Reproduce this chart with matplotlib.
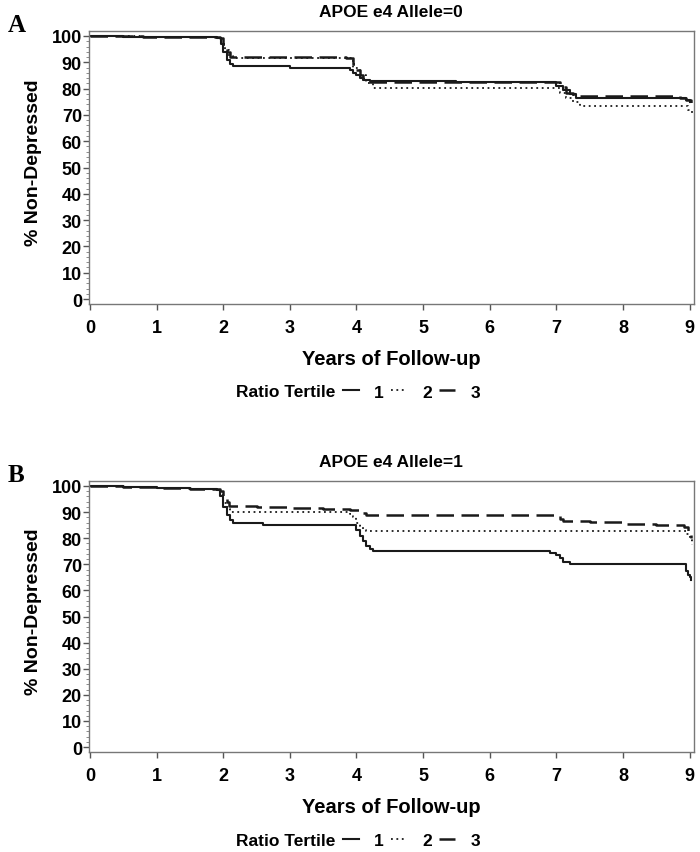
import numpy as np
import matplotlib.pyplot as plt
from matplotlib.ticker import MultipleLocator

plt.rcParams['font.family'] = ['Liberation Sans Narrow', 'Liberation Sans', 'DejaVu Sans']
plt.rcParams['font.weight'] = 'bold'

# panel A: APOE e4 Allele=0  (KM step curves, % non-depressed)
a_t1 = [0, 0.5, 1.2, 1.9, 1.96, 2.0, 2.05, 2.1, 2.15, 3.0, 3.9, 3.95, 4.0, 4.05, 4.1, 4.2, 5.5, 6.9, 7.0, 7.1, 7.2, 7.3, 8.9, 8.95, 9.0]
a_s1 = [100, 99.8, 99.6, 99.4, 97, 94, 91, 89.5, 88.5, 88.0, 87.2, 86, 85, 84, 83.3, 82.8, 82.6, 82.4, 81, 79.5, 78, 76.6, 76.4, 75.5, 74.9]
a_t2 = [0, 0.8, 1.6, 1.9, 1.97, 2.03, 2.08, 2.15, 3.85, 3.95, 4.05, 4.15, 4.25, 6.95, 7.05, 7.15, 7.25, 7.35, 8.9, 8.97, 9.03]
a_s2 = [100, 99.7, 99.5, 99.3, 97, 94.5, 92.5, 91.8, 91.5, 88, 85, 82, 80.3, 80.3, 78.5, 76.5, 75, 73.5, 73.5, 72, 70.3]
a_t3 = [0, 0.8, 1.6, 1.95, 2.0, 2.05, 2.1, 3.85, 3.95, 4.0, 4.05, 4.1, 4.2, 6.95, 7.05, 7.15, 7.25, 8.85, 8.95, 9.02]
a_s3 = [100, 99.8, 99.6, 99.4, 97, 94, 92, 91.8, 89.5, 87, 85, 83.5, 82.6, 82.4, 80.5, 78.5, 77, 76.5, 75.5, 74.5]

# panel B: APOE e4 Allele=1
b_t1 = [0, 0.5, 1.0, 1.5, 1.9, 1.95, 2.0, 2.05, 2.1, 2.15, 2.6, 3.95, 4.0, 4.05, 4.1, 4.15, 4.2, 4.25, 6.9, 7.0, 7.05, 7.1, 7.2, 8.95, 8.98, 9.0, 9.02]
b_s1 = [100, 99.5, 99.2, 98.9, 98.5, 96, 92, 89, 87, 86, 85, 84.9, 83, 81, 79, 77, 76, 75, 74.5, 73.7, 72.5, 71, 70, 67.5, 66, 65, 64]
b_t2 = [0, 0.5, 1.0, 1.5, 1.9, 1.95, 2.0, 2.05, 2.1, 3.9, 3.95, 4.0, 4.05, 4.1, 4.15, 8.95, 9.0, 9.03]
b_s2 = [100, 99.6, 99.2, 98.9, 98.6, 96.5, 93.5, 91, 89.9, 89.3, 88, 86, 84.5, 83.2, 82.6, 81.5, 79.5, 77.5]
b_t3 = [0, 0.5, 1.0, 1.5, 1.85, 1.95, 2.0, 2.05, 2.08, 2.5, 3.0, 3.5, 3.9, 4.05, 4.15, 7.0, 7.05, 7.1, 7.5, 8.0, 8.5, 8.92, 8.97, 9.02]
b_s3 = [100, 99.7, 99.4, 99.0, 98.7, 98, 96, 94, 92.2, 92.0, 91.6, 91.2, 90.7, 89.5, 88.8, 88.7, 87.5, 86.6, 86.2, 85.6, 85.0, 84.3, 82, 80]

tertiles = ['1', '2', '3']
styles = ['-', (0, (1, 2)), (0, (7, 3))]
widths = [1.5, 1.3, 1.8]
x_ticks = np.arange(0, 10)
y_ticks = np.arange(0, 101, 10)

fig = plt.figure(figsize=(7, 8.53), dpi=100)
axA = fig.add_axes([0.127, 0.6424, 0.864, 0.3201])
axB = fig.add_axes([0.127, 0.1172, 0.864, 0.3177])

panels = [
    (axA, 'APOE e4 Allele=0', 'A', [(a_t1, a_s1), (a_t2, a_s2), (a_t3, a_s3)], -0.322),
    (axB, 'APOE e4 Allele=1', 'B', [(b_t1, b_s1), (b_t2, b_s2), (b_t3, b_s3)], -0.328),
]

for ax, title, letter, curves, leg_y in panels:
    lines = []
    for (t, s), ls, lw, lab in zip(curves, styles, widths, tertiles):
        ln, = ax.plot(t, s, drawstyle='steps-post', color='#1a1a1a', linestyle=ls, linewidth=lw, label=lab)
        lines.append(ln)
    ax.set_xlim(-0.015, 9.06)
    ax.set_ylim(-1.9, 101.9)
    ax.set_xticks(x_ticks)
    ax.set_yticks(y_ticks)
    ax.yaxis.set_minor_locator(MultipleLocator(2))
    ax.tick_params(axis='both', which='major', labelsize=13, length=4, width=1, color='#555555')
    ax.tick_params(axis='y', which='major', pad=1)
    ax.tick_params(axis='x', which='major', pad=7)
    ax.tick_params(axis='y', which='minor', length=2, width=0.6, color='#777777')
    for sp in ax.spines.values():
        sp.set_color('#777777')
        sp.set_linewidth(1)
    ax.set_xlabel('Years of Follow-up', fontsize=14.5, fontweight='bold', labelpad=9)
    ax.set_ylabel('% Non-Depressed', fontsize=14, fontweight='bold')
    ax.yaxis.set_label_coords(-0.077, 0.52)
    ax.set_title(title, fontsize=12.5, fontweight='bold', pad=11)
    ax.text(-0.135, 1.0, letter, transform=ax.transAxes, fontsize=18, fontweight='bold',
            family=['Liberation Serif', 'DejaVu Serif'])
    ax.text(0.243, leg_y, 'Ratio Tertile', transform=ax.transAxes, fontsize=12.5,
            fontweight='bold', ha='left', va='center')
    ax.legend(handles=lines, loc='center left', bbox_to_anchor=(0.42, leg_y), ncol=3,
              frameon=False, fontsize=12.5, handlelength=0.9, handletextpad=0.9,
              columnspacing=0.42, borderpad=0, borderaxespad=0)

fig.savefig('out.png', dpi=100)
